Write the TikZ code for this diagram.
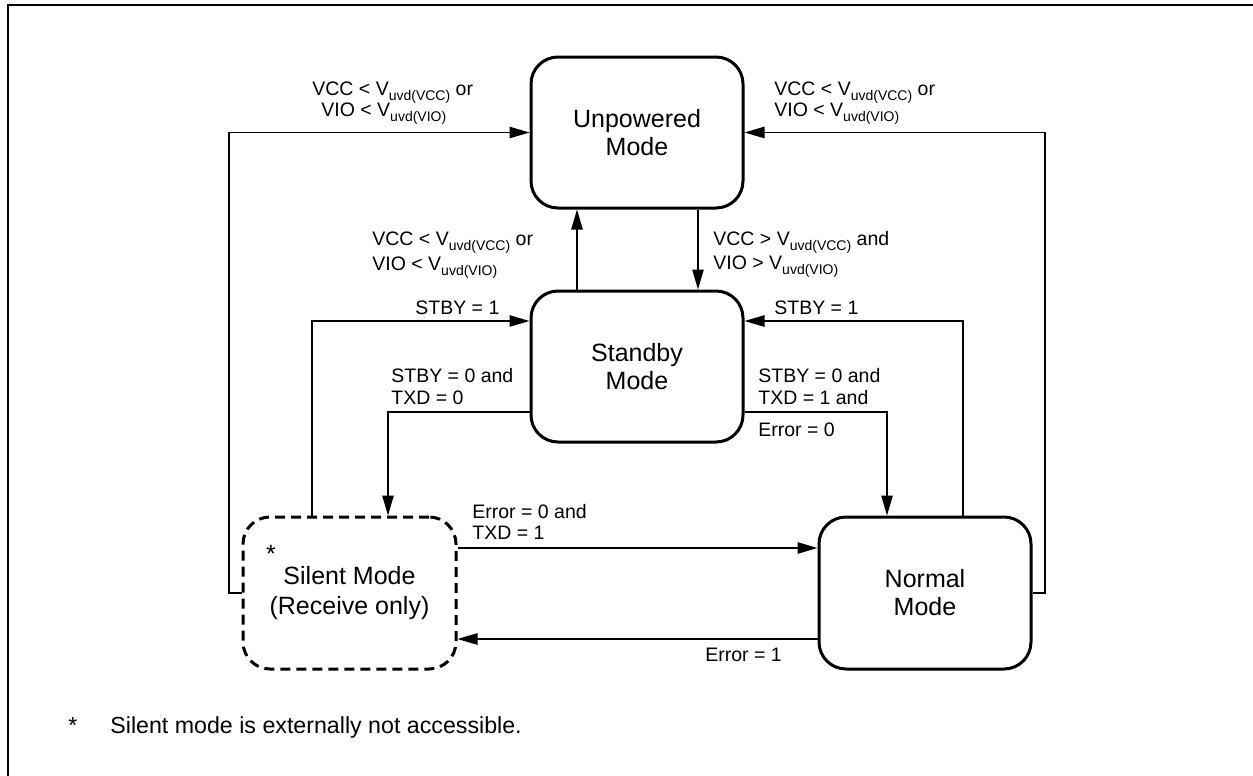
\documentclass[tikz,border=0pt]{standalone}
\usepackage{fontspec}
\setmainfont{Liberation Sans}
\usetikzlibrary{arrows.meta,calc}
\newcommand\usub[1]{\raisebox{-0.28em}{\fontsize{7}{7}\selectfont #1}}
\begin{document}
\begin{tikzpicture}[x=0.5pt,y=-0.5pt,
  state/.style={draw, line width=1.5pt, rounded corners=13.5pt, minimum width=106pt,
    minimum height=75.5pt, align=center, inner sep=0pt,
    font=\fontsize{12.5}{14}\selectfont},
  silentstate/.style={state, dash pattern=on 5pt off 3pt},
  conn/.style={line width=0.65pt, -{Triangle[length=10pt,width=5.7pt]}},
  lbl/.style={anchor=base west, inner sep=0pt, font=\fontsize{9.75}{11}\selectfont},
  fn/.style={inner sep=0pt, font=\fontsize{11.6}{13}\selectfont},
  frame/.style={line width=1.4pt}
]
\useasboundingbox (0,0) rectangle (1253,776);
% frame
\draw[frame] (8,776) -- (8,5) -- (1253,5);

% states
\node[state] (unpow) at (637,132.5) {Unpowered\\Mode};
\node[state] (stby) at (637,366.5) {Standby\\Mode};
\node[silentstate, minimum width=106.5pt, minimum height=76pt, font=\fontsize{12.5}{15}\selectfont] (silent) at (349.5,593) {Silent Mode\\(Receive only)};
\node[state, minimum height=76pt] (normal) at (925,593) {Normal\\Mode};
\node[anchor=base, inner sep=0pt, font=\fontsize{12.5}{14}\selectfont] (star) at (271,562) {*};

% connectors
\coordinate (lcorner) at (229,593);
\coordinate (rcorner) at (1045,593);
\draw[conn] (silent.west) -- (lcorner) |- (unpow.west);
\draw[conn] (normal.east) -- (rcorner) |- (unpow.east);
\draw[conn] ($(unpow.south)+(61,0)$) -- ($(stby.north)+(61,0)$);
\draw[conn] ($(stby.north)+(-60,0)$) -- ($(unpow.south)+(-60,0)$);
\draw[conn] ($(silent.north)+(-37.5,0)$) |- ($(stby.west)+(0,-45.5)$);
\draw[conn] ($(stby.west)+(0,45.5)$) -| ($(silent.north)+(38.5,0)$);
\draw[conn] ($(normal.north)+(38,0)$) |- ($(stby.east)+(0,-45.5)$);
\draw[conn] ($(stby.east)+(0,45.5)$) -| ($(normal.north)+(-38,0)$);
\draw[conn] ($(silent.east)+(0,-45)$) -- ($(normal.west)+(0,-45)$);
\draw[conn] ($(normal.west)+(0,46)$) -- ($(silent.east)+(0,46)$);

% labels
\node[lbl] (l1a) at (312,95) {VCC < V\usub{uvd(VCC)} or};
\node[lbl] (l1b) at (321,116) {VIO < V\usub{uvd(VIO)}};
\node[lbl] (l2a) at (774,95) {VCC < V\usub{uvd(VCC)} or};
\node[lbl] (l2b) at (774,116) {VIO < V\usub{uvd(VIO)}};
\node[lbl] (l3a) at (372,245) {VCC < V\usub{uvd(VCC)} or};
\node[lbl] (l3b) at (372,270) {VIO < V\usub{uvd(VIO)}};
\node[lbl] (l4a) at (713,245) {VCC > V\usub{uvd(VCC)} and};
\node[lbl] (l4b) at (713,269) {VIO > V\usub{uvd(VIO)}};
\node[lbl] (l5) at (415,314) {STBY = 1};
\node[lbl] (l6) at (774,314) {STBY = 1};
\node[lbl] (l7a) at (391,382) {STBY = 0 and};
\node[lbl] (l7b) at (391,404) {TXD = 0};
\node[lbl] (l8a) at (758,382) {STBY = 0 and};
\node[lbl] (l8b) at (758,404) {TXD = 1 and};
\node[lbl] (l8c) at (758,436) {Error = 0};
\node[lbl] (l9a) at (472,518) {Error = 0 and};
\node[lbl] (l9b) at (472,539) {TXD = 1};
\node[lbl] (l10) at (705,661) {Error = 1};

% footnote
\node[fn, anchor=base] (fnstar) at (73,733) {*};
\node[fn, anchor=base west] (fntext) at (110,733) {Silent mode is externally not accessible.};
\end{tikzpicture}
\end{document}
